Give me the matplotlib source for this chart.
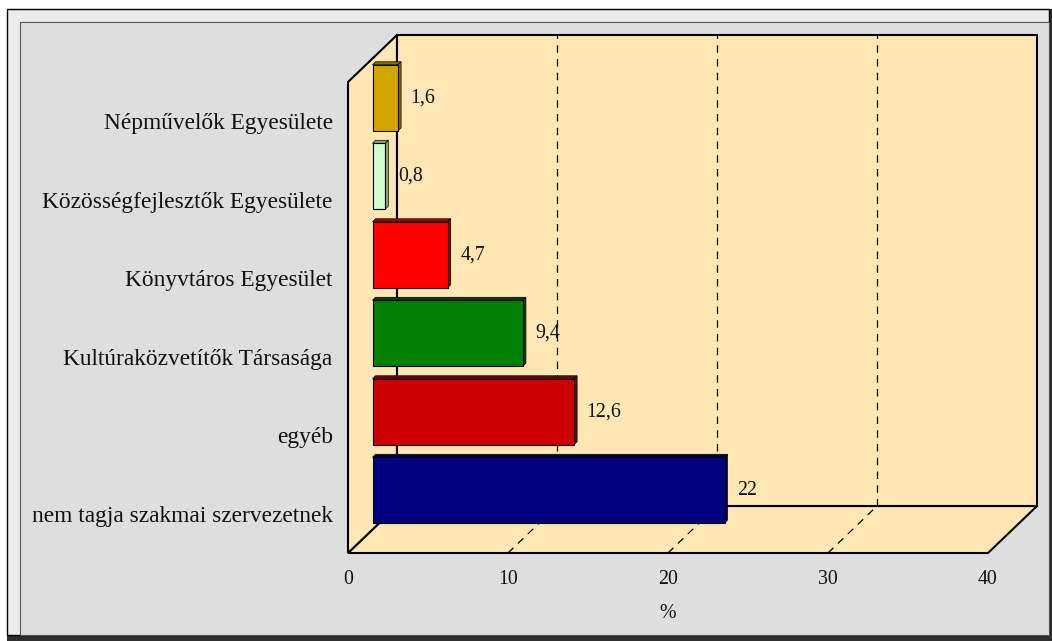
import numpy as np
import matplotlib
matplotlib.use("Agg")
import matplotlib.pyplot as plt
from matplotlib.patches import Polygon, Rectangle

plt.rcParams['font.family'] = ['Liberation Serif', 'DejaVu Serif']

# data (top to bottom in the picture)
categories = ['Népművelők Egyesülete', 'Közösségfejlesztők Egyesülete',
              'Könyvtáros Egyesület', 'Kultúraközvetítők Társasága',
              'egyéb', 'nem tagja szakmai szervezetnek']
values = [1.6, 0.8, 4.7, 9.4, 12.6, 22]
value_labels = ['1,6', '0,8', '4,7', '9,4', '12,6', '22']
bar_colors = ['#D4A500', '#CCFFCC', '#FF0000', '#008000', '#CC0000', '#000080']
side_colors = ['#8A6C00', '#88AA88', '#A00000', '#004000', '#700000', '#000040']
xticks = [0, 10, 20, 30, 40]

W, H = 1052, 641
fig = plt.figure(figsize=(W / 100, H / 100), dpi=100)
fig.patch.set_facecolor('white')


def frect(x0, y0, x1, y1, **kw):
    # rectangle in pixel coords, origin top-left, behind the axes
    fig.patches.append(Rectangle((x0 / W, 1 - y1 / H), (x1 - x0) / W, (y1 - y0) / H,
                                 transform=fig.transFigure, zorder=-10, **kw))


# bevelled frame
frect(7, 9, 1052, 641, facecolor='#2E2E2E', edgecolor='none')
frect(7, 9, 1049, 635, facecolor='#EBEBEB', edgecolor='black', lw=1)
frect(20, 22, 1049, 635, facecolor='#DEDEDE', edgecolor='#555555', lw=0.8)

# front plane of the plot: x 0..40 -> px 348..988, floor at y=553, top at y=82
ax = fig.add_axes([348 / W, (H - 553) / H, 640 / W, 471 / H])
ax.set_xlim(0, 40)
ax.set_ylim(0, 6)
ax.patch.set_visible(False)
for s in ax.spines.values():
    s.set_visible(False)

DX = 49 / 16.0          # depth offset in data units
DY = 47 / (471 / 6.0)
wall = '#FFE7B5'
lw = 1.5

ax.add_patch(Polygon([(0, 0), (40, 0), (40 + DX, DY), (DX, DY)], closed=True,
                     facecolor=wall, edgecolor='black', lw=lw, clip_on=False, zorder=1))
ax.add_patch(Polygon([(0, 0), (0, 6), (DX, 6 + DY), (DX, DY)], closed=True,
                     facecolor=wall, edgecolor='black', lw=lw, clip_on=False, zorder=1))
ax.add_patch(Rectangle((DX, DY), 40, 6, facecolor=wall, edgecolor='black', lw=lw,
                       clip_on=False, zorder=1))
for v in xticks[1:-1]:
    ax.plot([v + DX, v + DX], [DY, 6 + DY], color='black', lw=0.9, ls=(0, (6, 5)),
            clip_on=False, zorder=2)
    ax.plot([v, v + DX], [0, DY], color='black', lw=0.9, ls=(0, (6, 5)),
            clip_on=False, zorder=2)

# bars sit halfway in depth
n = len(categories)
centers = np.arange(n)[::-1] + 0.5
bh = 0.84
ddx, ddy = 3 / 16.0, 3 / 78.5
for c, v, col, sc, lab in zip(centers, values, bar_colors, side_colors, value_labels):
    y = c + DY / 2
    x0 = DX / 2
    ax.barh(y, v, left=x0, height=bh, color=col, edgecolor='black', lw=0.8,
            zorder=4, clip_on=False)
    top = y + bh / 2
    ax.add_patch(Polygon([(x0, top), (x0 + v, top), (x0 + v + ddx, top + ddy),
                          (x0 + ddx, top + ddy)], closed=True, facecolor=sc,
                         edgecolor='black', lw=0.5, zorder=3, clip_on=False))
    ax.add_patch(Polygon([(x0 + v, top), (x0 + v, y - bh / 2), (x0 + v + ddx, y - bh / 2 + ddy),
                          (x0 + v + ddx, top + ddy)], closed=True, facecolor=sc,
                         edgecolor='black', lw=0.5, zorder=3, clip_on=False))
    ax.annotate(lab, (x0 + v, y), xytext=(9, 0), textcoords='offset points',
                ha='left', va='center', fontsize=14.3, color='#111111', zorder=5)

ax.set_yticks(centers, categories, fontsize=16.8)
ax.set_xticks(xticks, [str(t) for t in xticks], fontsize=14.3)
ax.tick_params(axis='both', length=0, colors='#111111')
ax.tick_params(axis='y', pad=11)
ax.tick_params(axis='x', pad=12)
ax.set_xlabel('%', fontsize=14.3, labelpad=11, color='#111111')

fig.savefig('out.png', dpi=100, facecolor=fig.get_facecolor())
